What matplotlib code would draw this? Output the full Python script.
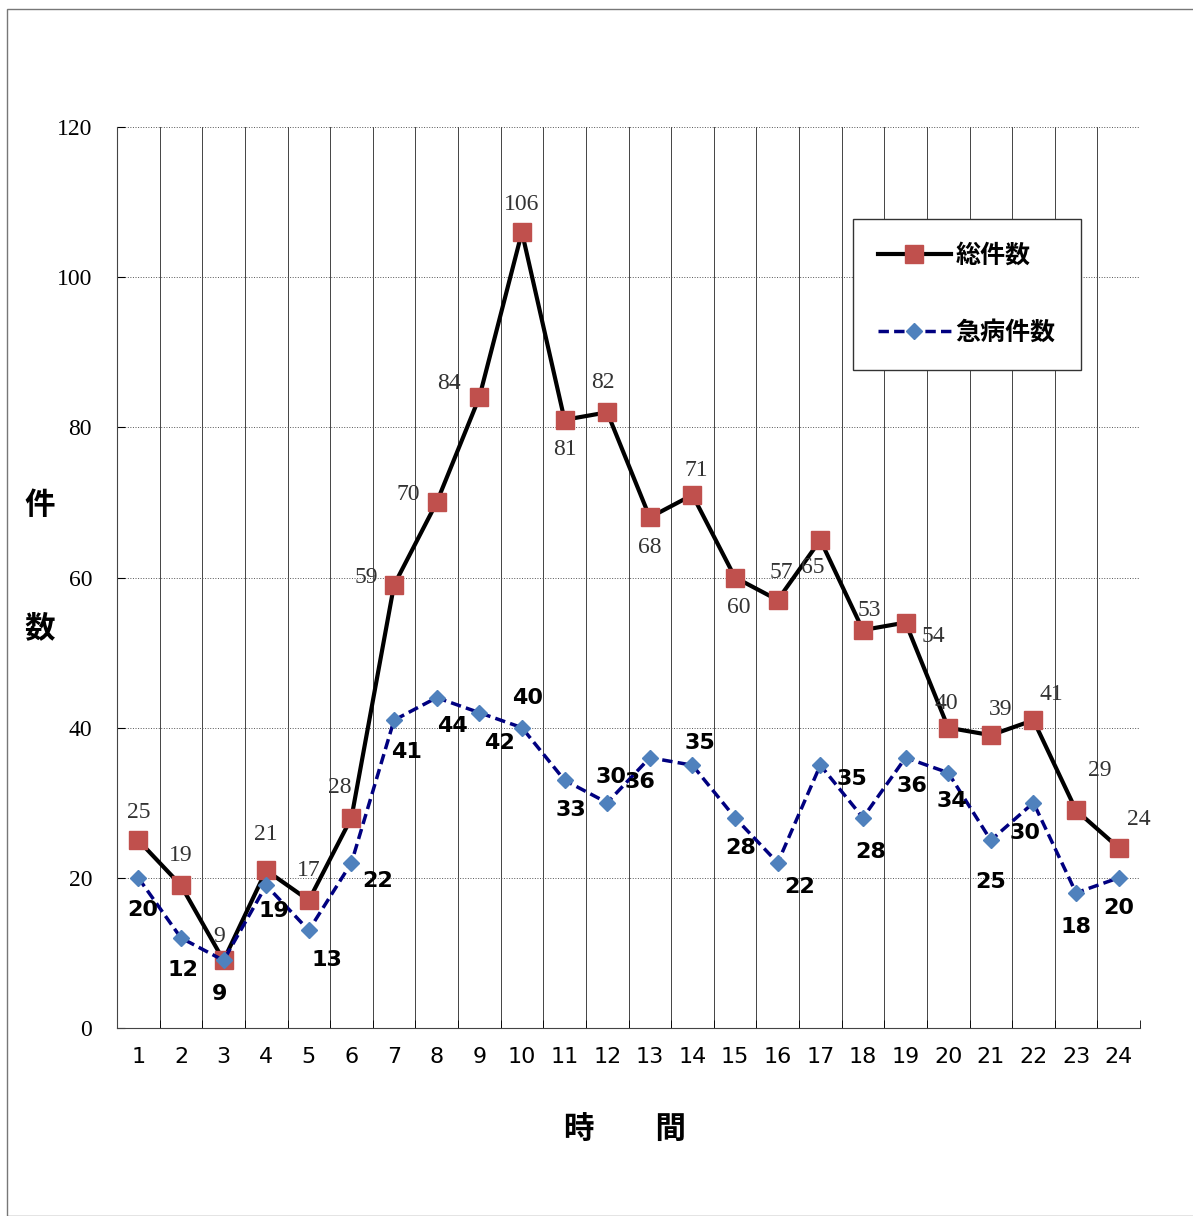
import matplotlib
matplotlib.use("Agg")
import matplotlib.pyplot as plt
import numpy as np

hours = list(range(1, 25))
total = [25, 19, 9, 21, 17, 28, 59, 70, 84, 106, 81, 82, 68, 71, 60, 57, 65, 53, 54, 40, 39, 41, 29, 24]
acute = [20, 12, 9, 19, 13, 22, 41, 44, 42, 40, 33, 30, 36, 35, 28, 22, 35, 28, 36, 34, 25, 30, 18, 20]

# label offsets in pixels (dx, dy)
tot_off = [(0, 28), (0, 30), (-4, 24), (0, 36), (0, 30), (-12, 30), (-28, 8), (-28, 8), (-30, 14), (0, 28),
           (0, -30), (-4, 30), (0, -30), (4, 24), (4, -30), (4, 28), (-8, -28), (6, 20), (28, -14), (-2, 24),
           (10, 26), (18, 26), (24, 40), (20, 28)]
acu_off = [(4, -32), (2, -32), (-4, -34), (8, -26), (18, -30), (26, -18), (12, -32), (16, -28), (20, -30), (6, 30),
           (6, -30), (4, 26), (-10, -24), (8, 22), (6, -30), (22, -24), (32, -14), (8, -34), (6, -28), (4, -28),
           (0, -42), (-8, -30), (0, -34), (0, -30)]

cjk = ['Noto Sans CJK JP', 'DejaVu Sans']
serif = 'Liberation Serif'

fig = plt.figure(figsize=(11.93, 12.16), dpi=100)
fig.patches.append(plt.Rectangle((7 / 1193, 0), 1.2, 1 - 9 / 1216, transform=fig.transFigure,
                                 fill=False, edgecolor='#777777', lw=1))
ax = fig.add_axes([117 / 1193, 1 - 1028 / 1216, (1140 - 117) / 1193, (1028 - 127) / 1216])

x = np.array(hours)
ax.plot(x, total, color='black', lw=3, marker='s', ms=13, mfc='#c0504d', mec='#c0504d', label='総件数', zorder=3)
ax.plot(x, acute, color='#000080', lw=2.5, ls=(0, (3, 1.5)), marker='D', ms=8, mfc='#4f81bd', mec='#4f81bd',
        label='急病件数', zorder=3)

for xi, v, o in zip(x, total, tot_off):
    ax.annotate(str(v), (xi, v), xytext=o, textcoords='offset pixels', ha='center', va='center',
                fontsize=17, family=serif, color='#333333')
for xi, v, o in zip(x, acute, acu_off):
    ax.annotate(str(v), (xi, v), xytext=o, textcoords='offset pixels', ha='center', va='center',
                fontsize=16, fontweight='bold', family='DejaVu Sans')

ax.set_xlim(0.5, 24.5)
ax.set_ylim(0, 120)
ax.set_yticks(range(0, 121, 20))
ax.set_yticklabels([str(t) for t in range(0, 121, 20)], family=serif, fontsize=17)
ax.set_xticks(x)
ax.set_xticklabels([str(h) for h in hours], fontsize=16)
ax.set_xticks(np.arange(0.5, 25, 1), minor=True)
ax.tick_params(axis='x', which='major', length=0, pad=14)
ax.tick_params(axis='x', which='minor', length=6, direction='in')
ax.tick_params(axis='y', length=6, direction='in', pad=18)
ax.grid(axis='y', color='#555555', lw=0.7, ls=':')
ax.grid(axis='x', which='minor', color='#444444', lw=0.7)
for s in ['top', 'right']:
    ax.spines[s].set_visible(False)
ax.spines['left'].set_color('#444444')
ax.spines['bottom'].set_color('#444444')

fig.text(40 / 1193, 1 - 505 / 1216, '件', family=cjk, fontsize=22, fontweight='bold', ha='center', va='center')
fig.text(40 / 1193, 1 - 628 / 1216, '数', family=cjk, fontsize=22, fontweight='bold', ha='center', va='center')
fig.text(625 / 1193, 1 - 1130 / 1216, '時　　間', family=cjk, fontsize=22, fontweight='bold', ha='center', va='center')

leg = ax.legend(loc='upper left', bbox_to_anchor=((853 - 117) / 1023, (1028 - 219) / 901),
                prop={'family': cjk, 'size': 18, 'weight': 'bold'}, fancybox=False, edgecolor='#333333',
                framealpha=1, labelspacing=2.1, borderpad=1.0, handlelength=2.9, handletextpad=0.2,
                borderaxespad=0)

fig.savefig('out.png', dpi=100)
